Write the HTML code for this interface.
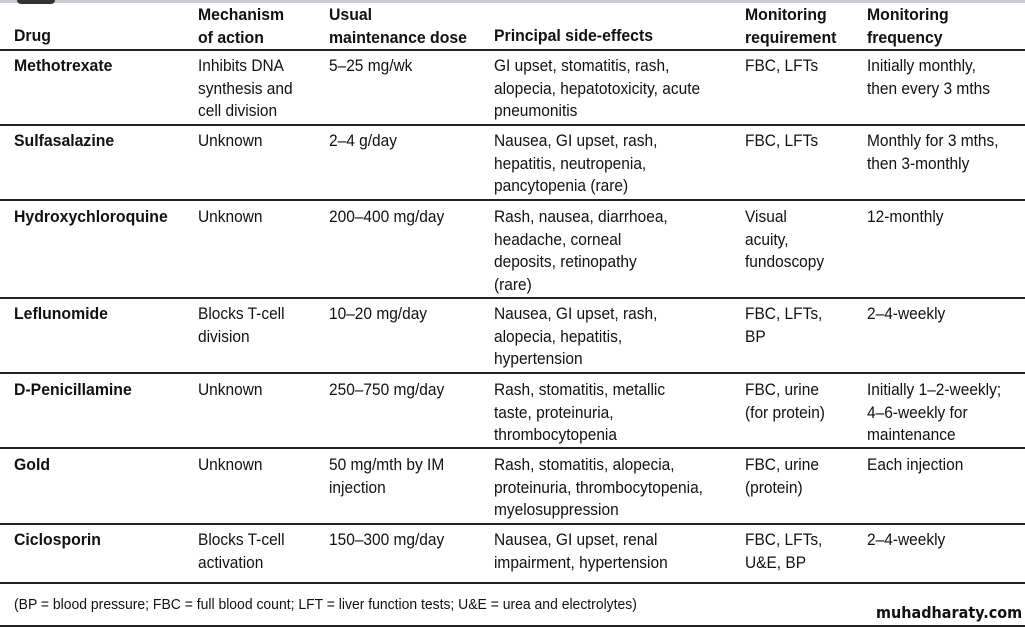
<!DOCTYPE html>
<html><head><meta charset="utf-8"><style>
body{margin:0;width:1025px;height:627px;background:#fff;position:relative;overflow:hidden;font-family:"Liberation Sans",Arial,sans-serif;color:#111}
.t{position:absolute;font-size:17px;line-height:22.5px;white-space:nowrap;transform:scaleX(0.91);transform-origin:0 0}
.b{font-weight:bold;transform:scaleX(0.93)}
.l{position:absolute;left:0;width:1025px;height:2px;background:#222}
</style></head><body>
<div style="position:absolute;left:0;top:0;width:1025px;height:3px;background:#c8ccd0"></div>
<div style="position:absolute;left:17px;top:0;width:38px;height:4px;background:#333;border-radius:0 0 8px 8px"></div>

<div class="t b" style="left:14px;top:25px">Drug</div>
<div class="t b" style="left:198px;top:4px">Mechanism<br>of action</div>
<div class="t b" style="left:329px;top:4px">Usual<br>maintenance dose</div>
<div class="t b" style="left:494px;top:25px">Principal side-effects</div>
<div class="t b" style="left:745px;top:4px">Monitoring<br>requirement</div>
<div class="t b" style="left:867px;top:4px">Monitoring<br>frequency</div>
<div class="l" style="top:49px"></div>

<div class="t b" style="left:14px;top:55px">Methotrexate</div>
<div class="t" style="left:198px;top:55px">Inhibits DNA<br>synthesis and<br>cell division</div>
<div class="t" style="left:329px;top:55px">5–25 mg/wk</div>
<div class="t" style="left:494px;top:55px">GI upset, stomatitis, rash,<br>alopecia, hepatotoxicity, acute<br>pneumonitis</div>
<div class="t" style="left:745px;top:55px">FBC, LFTs</div>
<div class="t" style="left:867px;top:55px">Initially monthly,<br>then every 3 mths</div>
<div class="l" style="top:124px"></div>

<div class="t b" style="left:14px;top:130px">Sulfasalazine</div>
<div class="t" style="left:198px;top:130px">Unknown</div>
<div class="t" style="left:329px;top:130px">2–4 g/day</div>
<div class="t" style="left:494px;top:130px">Nausea, GI upset, rash,<br>hepatitis, neutropenia,<br>pancytopenia (rare)</div>
<div class="t" style="left:745px;top:130px">FBC, LFTs</div>
<div class="t" style="left:867px;top:130px">Monthly for 3 mths,<br>then 3-monthly</div>
<div class="l" style="top:199px"></div>

<div class="t b" style="left:14px;top:206px">Hydroxychloroquine</div>
<div class="t" style="left:198px;top:206px">Unknown</div>
<div class="t" style="left:329px;top:206px">200–400 mg/day</div>
<div class="t" style="left:494px;top:206px">Rash, nausea, diarrhoea,<br>headache, corneal<br>deposits, retinopathy<br>(rare)</div>
<div class="t" style="left:745px;top:206px">Visual<br>acuity,<br>fundoscopy</div>
<div class="t" style="left:867px;top:206px">12-monthly</div>
<div class="l" style="top:297px"></div>

<div class="t b" style="left:14px;top:303px">Leflunomide</div>
<div class="t" style="left:198px;top:303px">Blocks T-cell<br>division</div>
<div class="t" style="left:329px;top:303px">10–20 mg/day</div>
<div class="t" style="left:494px;top:303px">Nausea, GI upset, rash,<br>alopecia, hepatitis,<br>hypertension</div>
<div class="t" style="left:745px;top:303px">FBC, LFTs,<br>BP</div>
<div class="t" style="left:867px;top:303px">2–4-weekly</div>
<div class="l" style="top:372px"></div>

<div class="t b" style="left:14px;top:379px">D-Penicillamine</div>
<div class="t" style="left:198px;top:379px">Unknown</div>
<div class="t" style="left:329px;top:379px">250–750 mg/day</div>
<div class="t" style="left:494px;top:379px">Rash, stomatitis, metallic<br>taste, proteinuria,<br>thrombocytopenia</div>
<div class="t" style="left:745px;top:379px">FBC, urine<br>(for protein)</div>
<div class="t" style="left:867px;top:379px">Initially 1–2-weekly;<br>4–6-weekly for<br>maintenance</div>
<div class="l" style="top:447px"></div>

<div class="t b" style="left:14px;top:454px">Gold</div>
<div class="t" style="left:198px;top:454px">Unknown</div>
<div class="t" style="left:329px;top:454px">50 mg/mth by IM<br>injection</div>
<div class="t" style="left:494px;top:454px">Rash, stomatitis, alopecia,<br>proteinuria, thrombocytopenia,<br>myelosuppression</div>
<div class="t" style="left:745px;top:454px">FBC, urine<br>(protein)</div>
<div class="t" style="left:867px;top:454px">Each injection</div>
<div class="l" style="top:523px"></div>

<div class="t b" style="left:14px;top:529px">Ciclosporin</div>
<div class="t" style="left:198px;top:529px">Blocks T-cell<br>activation</div>
<div class="t" style="left:329px;top:529px">150–300 mg/day</div>
<div class="t" style="left:494px;top:529px">Nausea, GI upset, renal<br>impairment, hypertension</div>
<div class="t" style="left:745px;top:529px">FBC, LFTs,<br>U&amp;E, BP</div>
<div class="t" style="left:867px;top:529px">2–4-weekly</div>
<div class="l" style="top:582px"></div>

<div class="t" style="left:14px;top:595px;font-size:15px;line-height:20px;transform:scaleX(0.93)">(BP = blood pressure; FBC = full blood count; LFT = liver function tests; U&amp;E = urea and electrolytes)</div>
<div style="position:absolute;left:876px;top:603px;font-size:16px;font-weight:bold;color:#111;font-family:'DejaVu Sans',sans-serif;white-space:nowrap;transform:scaleX(0.9);transform-origin:0 0">muhadharaty.com</div>
<div class="l" style="top:625px"></div>
</body></html>
